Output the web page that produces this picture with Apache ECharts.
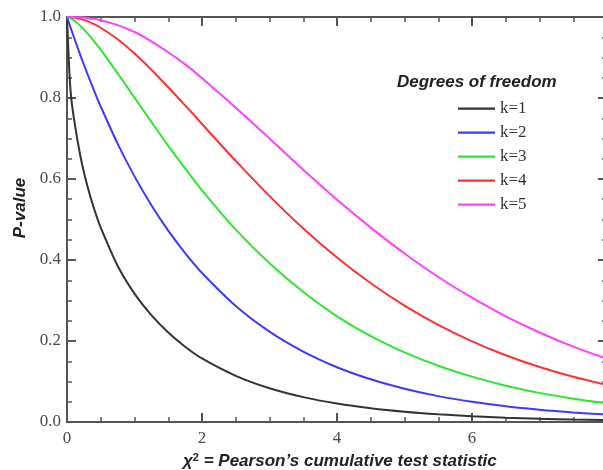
<!DOCTYPE html>
<html>
<head>
<meta charset="utf-8">
<script src="https://cdn.jsdelivr.net/npm/echarts@6/dist/echarts.min.js"></script>
<style>html,body{margin:0;padding:0;background:#fff}#c{width:603px;height:470px}</style>
</head>
<body>
<div id="c"></div>
<script>
const xs = [0, 0.05, 0.1, 0.2, 0.3, 0.4, 0.5, 0.75, 1, 1.25, 1.5, 1.75, 2, 2.5, 3, 3.5, 4, 4.5, 5, 5.5, 6, 6.5, 7, 7.5, 8];
const k1 = [1, 0.823, 0.752, 0.655, 0.584, 0.527, 0.480, 0.386, 0.317, 0.264, 0.221, 0.186, 0.157, 0.114, 0.0833, 0.0614, 0.0455, 0.0339, 0.0253, 0.0190, 0.0143, 0.0108, 0.00815, 0.00617, 0.00468];
const k2 = [1, 0.9753, 0.9512, 0.9048, 0.8607, 0.8187, 0.7788, 0.6873, 0.6065, 0.5353, 0.4724, 0.4169, 0.3679, 0.2865, 0.2231, 0.1738, 0.1353, 0.1054, 0.0821, 0.0639, 0.0498, 0.0388, 0.0302, 0.0235, 0.0183];
const k3 = [1, 0.997, 0.992, 0.978, 0.960, 0.940, 0.919, 0.861, 0.801, 0.741, 0.682, 0.626, 0.572, 0.475, 0.392, 0.321, 0.261, 0.212, 0.172, 0.139, 0.112, 0.0897, 0.0719, 0.0576, 0.0460];
const k4 = [1, 0.9997, 0.9988, 0.9953, 0.9898, 0.9825, 0.9735, 0.9450, 0.9098, 0.8699, 0.8266, 0.7817, 0.7358, 0.6446, 0.5578, 0.4779, 0.4060, 0.3425, 0.2873, 0.2397, 0.1991, 0.1648, 0.1359, 0.1117, 0.0916];
const k5 = [1, 1.0, 0.9998, 0.9991, 0.9975, 0.9955, 0.992, 0.980, 0.963, 0.940, 0.913, 0.883, 0.849, 0.776, 0.700, 0.623, 0.549, 0.480, 0.416, 0.358, 0.307, 0.261, 0.221, 0.186, 0.156];
const seriesNames = ['k=1', 'k=2', 'k=3', 'k=4', 'k=5'];
const seriesValues = [k1, k2, k3, k4, k5];
const colors = ['#333333', '#3b3bff', '#2ee62e', '#ff3030', '#ff40ff'];

const chart = echarts.init(document.getElementById('c'), null, {renderer: 'canvas'});
const axisColor = '#555555';
const labelFont = {fontFamily: 'Liberation Serif', fontSize: 17, color: '#4a4a4a'};
const sansFont = 'italic bold 17px "Liberation Sans"';
const lineIcon = 'path://M0,0h1v0.01h-1z M0,6h37v2.2h-37z M0,13.99h1v0.01h-1z';

function xAxisCfg(pos, showLabel) {
  return {
    type: 'value', position: pos, min: 0, max: 8, interval: 2,
    axisLine: {show: true, onZero: false, lineStyle: {color: axisColor, width: 2}},
    axisTick: {show: true, inside: true, length: 9, lineStyle: {color: axisColor, width: 2}},
    minorTick: {show: true, splitNumber: 4, length: 5, lineStyle: {color: axisColor, width: 1.5}},
    axisLabel: Object.assign({show: showLabel, margin: 8, hideOverlap: false}, labelFont),
    splitLine: {show: false}
  };
}
function yAxisCfg(pos, showLabel) {
  return {
    type: 'value', position: pos, min: 0, max: 1, interval: 0.2,
    axisLine: {show: true, onZero: false, lineStyle: {color: axisColor, width: 2}},
    axisTick: {show: true, inside: true, length: 9, lineStyle: {color: axisColor, width: 2}},
    minorTick: {show: true, splitNumber: 4, length: 5, lineStyle: {color: axisColor, width: 1.5}},
    axisLabel: Object.assign({show: showLabel, margin: 6, formatter: v => v.toFixed(1)}, labelFont),
    splitLine: {show: false}
  };
}

chart.setOption({
  animation: false,
  backgroundColor: '#ffffff',
  grid: {left: 67, top: 17, width: 540, height: 405, containLabel: false, outerBoundsMode: 'none'},
  xAxis: [xAxisCfg('bottom', true), xAxisCfg('top', false)],
  yAxis: [yAxisCfg('left', true), yAxisCfg('right', false)],
  legend: {
    orient: 'vertical', left: 453, top: 95,
    itemWidth: 37, itemHeight: 14, itemGap: 7,
    icon: lineIcon,
    textStyle: {fontFamily: 'Liberation Serif', fontSize: 17, color: '#333333'},
    data: seriesNames
  },
  graphic: [
    {type: 'text', left: 397, top: 74,
     style: {text: 'Degrees of freedom', font: sansFont, fill: '#222'}},
    {type: 'text', x: 20, y: 208, rotation: Math.PI / 2,
     style: {text: 'P-value', font: sansFont, fill: '#222', align: 'center', verticalAlign: 'middle'}},
    {type: 'text', left: 183, top: 452,
     style: {rich: {
       a: {font: sansFont, fill: '#222'},
       s: {font: 'bold 11px "Liberation Sans"', fill: '#222', verticalAlign: 'top', padding: [0, 0, 7, 0]}
     }, text: '{a|χ}{s|2}{a| = Pearson\u2019s cumulative test statistic}'}}
  ],
  series: seriesValues.map((vals, i) => ({
    name: seriesNames[i], type: 'line', smooth: 0.3, symbol: 'none',
    xAxisIndex: 0, yAxisIndex: 0,
    lineStyle: {color: colors[i], width: 2},
    itemStyle: {color: colors[i]},
    data: xs.map((x, j) => [x, vals[j]])
  }))
});
</script>
</body>
</html>
